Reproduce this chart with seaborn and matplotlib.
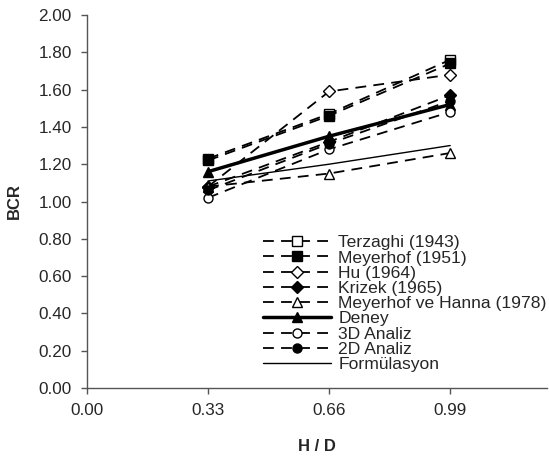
import matplotlib
matplotlib.use("Agg")
import matplotlib.pyplot as plt
import seaborn as sns
import pandas as pd
from matplotlib.ticker import FormatStrFormatter

sns.set_style("white")
plt.rcParams['font.family'] = ['Liberation Sans', 'DejaVu Sans']

hd = [0.33, 0.66, 0.99]
terzaghi = [1.23, 1.47, 1.76]
meyerhof = [1.22, 1.46, 1.74]
hu = [1.08, 1.59, 1.68]
krizek = [1.08, 1.32, 1.57]
meyerhof_hanna = [1.08, 1.15, 1.26]
deney = [1.16, 1.35, 1.52]
analiz3d = [1.02, 1.28, 1.48]
analiz2d = [1.06, 1.31, 1.54]
formulasyon = [1.11, 1.20, 1.30]

series_names = ["Terzaghi (1943)", "Meyerhof (1951)", "Hu (1964)", "Krizek (1965)",
                "Meyerhof ve Hanna (1978)", "Deney", "3D Analiz", "2D Analiz", "Formülasyon"]
series_vals = [terzaghi, meyerhof, hu, krizek, meyerhof_hanna, deney, analiz3d, analiz2d, formulasyon]

rows = []
for n, vals in zip(series_names, series_vals):
    for x, v in zip(hd, vals):
        rows.append({"H/D": x, "BCR": v, "seri": n})
df = pd.DataFrame(rows)

dash = (0, (6, 4))
styles = {
    "Terzaghi (1943)": dict(marker="s", mfc="white", ls=dash, lw=1.3, ms=6.5),
    "Meyerhof (1951)": dict(marker="s", mfc="black", ls=dash, lw=1.3, ms=6.5),
    "Hu (1964)": dict(marker="D", mfc="white", ls=dash, lw=1.3, ms=6),
    "Krizek (1965)": dict(marker="D", mfc="black", ls=dash, lw=1.3, ms=6),
    "Meyerhof ve Hanna (1978)": dict(marker="^", mfc="white", ls=dash, lw=1.3, ms=7.5),
    "Deney": dict(marker="^", mfc="black", ls="-", lw=2.5, ms=7.5),
    "3D Analiz": dict(marker="o", mfc="white", ls=dash, lw=1.3, ms=6.5),
    "2D Analiz": dict(marker="o", mfc="black", ls=dash, lw=1.3, ms=6.5),
    "Formülasyon": dict(marker=None, mfc="black", ls="-", lw=1.0, ms=0),
}

fig = plt.figure(figsize=(5.49, 4.58), dpi=100)
ax = fig.add_axes([87/549, 70/458, 460/549, 373/458])

for n in series_names:
    st = styles[n]
    sub = df[df["seri"] == n]
    sns.lineplot(data=sub, x="H/D", y="BCR", ax=ax, color="black", label=n,
                 marker=st["marker"], markerfacecolor=st["mfc"], markeredgecolor="black",
                 markeredgewidth=1.0, markersize=st["ms"], linestyle=st["ls"], linewidth=st["lw"])

ax.set_xlim(0, 1.254)
ax.set_ylim(0, 2.0)
ax.set_xticks([0.0, 0.33, 0.66, 0.99])
ax.set_yticks([i * 0.2 for i in range(11)])
ax.xaxis.set_major_formatter(FormatStrFormatter("%.2f"))
ax.yaxis.set_major_formatter(FormatStrFormatter("%.2f"))
for s in ["top", "right"]:
    ax.spines[s].set_visible(False)
for s in ["left", "bottom"]:
    ax.spines[s].set_color("#555555")
    ax.spines[s].set_linewidth(1.0)
ax.tick_params(axis="both", direction="out", length=4, width=1, color="#555555",
               labelsize=12.3, bottom=True, left=True, pad=7)
ax.set_xlabel("H / D", fontsize=12, fontweight="bold", labelpad=15)
ax.set_ylabel("BCR", fontsize=12, fontweight="bold", labelpad=12)

leg = ax.legend(loc="upper left", bbox_to_anchor=(263/549, 1 - 235/458), bbox_transform=fig.transFigure,
                frameon=False, fontsize=12.6, handlelength=3.9, labelspacing=0.0,
                handletextpad=0.4, borderaxespad=0, borderpad=0)

fig.savefig("out.png", dpi=100)
